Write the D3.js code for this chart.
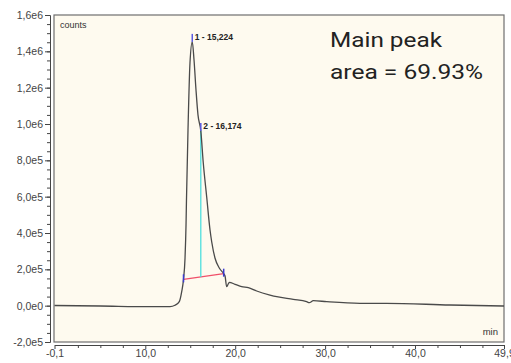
<!DOCTYPE html>
<html>
<head>
<meta charset="utf-8">
<script src="https://cdn.jsdelivr.net/npm/d3@7"></script>
<style>
  body { margin: 0; background: #fff; }
  svg { display: block; }
</style>
</head>
<body>
<svg id="chart" width="511" height="363"></svg>
<script>
// chromatogram trace (time in min, signal in counts)
const times = [-0.1, 5.0, 10.5, 12.75, 13.3, 13.78, 14.05, 14.25, 14.42, 14.53, 14.58, 14.75, 14.97, 15.224,
  15.42, 15.64, 15.86, 16.174, 16.45, 16.83, 17.2, 17.39, 17.75, 18.23, 18.72, 18.87, 19.05, 19.34,
  19.98, 20.72, 21.46, 22.39, 23.87, 24.62, 26.46, 27.95, 28.24, 28.69, 30.18, 33.88, 36.85, 43.89, 49.9];
const counts = [1000, -1800, -5500, -5500, 2000, 21800, 76900, 145000, 262400, 444000, 581700, 967000, 1336000, 1452000,
  1352000, 1187000, 1050000, 962000, 785000, 598000, 416600, 350500, 262400, 207400, 176000, 163300, 104400, 128600,
  117600, 104400, 98900, 80800, 58700, 49400, 35100, 21800, 16300, 27400, 21800, 13000, 13000, 3700, -1800];

// detected peaks
const peakTimes = [15.224, 16.174];
const peakValues = [1452000, 962000];
const peakNames = ["1 - 15,224", "2 - 16,174"];

// integration baseline (start, end)
const baseTimes = [14.25, 18.72];
const baseValues = [145000, 176000];

// axes
const xTickValues = [-0.1, 10, 20, 30, 40, 49.9];
const xTickLabels = ["-0,1", "10,0", "20,0", "30,0", "40,0", "49,9"];
const xMinorTicks = [2.5, 5, 7.5, 12.5, 15, 17.5, 22.5, 25, 27.5, 32.5, 35, 37.5, 42.5, 45, 47.5];
const yTickValues = [-200000, 0, 200000, 400000, 600000, 800000, 1000000, 1200000, 1400000, 1600000];
const yTickLabels = ["-2,0e5", "0,0e0", "2,0e5", "4,0e5", "6,0e5", "8,0e5", "1,0e6", "1,2e6", "1,4e6", "1,6e6"];

const noteLines = ["Main peak", "area = 69.93%"];

const svg = d3.select("#chart");
const box = { left: 54, right: 504, top: 15, bottom: 342 };

const x = d3.scaleLinear().domain([-0.1, 49.9]).range([box.left + 0.5, box.right]);
const y = d3.scaleLinear().domain([-200000, 1600000]).range([box.bottom, box.top]);

// plot background
svg.append("rect")
  .attr("x", box.left).attr("y", box.top)
  .attr("width", box.right - box.left).attr("height", box.bottom - box.top)
  .attr("fill", "#fefaef")
  .attr("stroke", "#6e6e6e")
  .attr("stroke-width", 1.2);

// y axis (major + minor)
const yMinor = d3.range(-200000, 1600001, 50000);
svg.append("g")
  .attr("transform", "translate(50,0)")
  .call(d3.axisLeft(y).tickValues(yMinor).tickSize(3).tickFormat(""))
  .call(g => g.select(".domain").attr("stroke", "#444"))
  .call(g => g.selectAll(".tick line").attr("stroke", "#444"));
svg.append("g")
  .attr("transform", "translate(50,0)")
  .call(d3.axisLeft(y).tickValues(yTickValues).tickSize(5).tickPadding(2)
    .tickFormat((d, i) => yTickLabels[i]))
  .call(g => g.select(".domain").remove())
  .call(g => g.selectAll(".tick line").attr("stroke", "#444"))
  .call(g => g.selectAll("text").attr("fill", "#444")
    .style("font", "10.5px 'Liberation Sans', Arial, sans-serif"));

// x axis (major + minor)
svg.append("g")
  .attr("transform", "translate(0,345)")
  .call(d3.axisBottom(x).tickValues(xMinorTicks).tickSize(3).tickFormat("").tickSizeOuter(0))
  .call(g => g.select(".domain").attr("stroke", "#444"))
  .call(g => g.selectAll(".tick line").attr("stroke", "#444"));
svg.append("g")
  .attr("transform", "translate(0,345)")
  .call(d3.axisBottom(x).tickValues(xTickValues).tickSize(4).tickPadding(1)
    .tickFormat((d, i) => xTickLabels[i]))
  .call(g => g.select(".domain").remove())
  .call(g => g.selectAll(".tick line").attr("stroke", "#444"))
  .call(g => g.selectAll("text").attr("fill", "#444")
    .style("font", "10.5px 'Liberation Sans', Arial, sans-serif"));

// unit labels
svg.append("text")
  .attr("x", 60).attr("y", 28)
  .attr("fill", "#333")
  .style("font", "9px 'Liberation Sans', Arial, sans-serif")
  .text("counts");
svg.append("text")
  .attr("x", 498).attr("y", 335)
  .attr("text-anchor", "end")
  .attr("fill", "#333")
  .style("font", "9.5px 'Liberation Sans', Arial, sans-serif")
  .text("min");

// integration baseline
svg.append("line")
  .attr("x1", x(baseTimes[0])).attr("y1", y(baseValues[0]))
  .attr("x2", x(baseTimes[1])).attr("y2", y(baseValues[1]))
  .attr("stroke", "#f0506a").attr("stroke-width", 1.3);

// drop line at peak 2
const baseAt = t => baseValues[0] + (t - baseTimes[0]) / (baseTimes[1] - baseTimes[0]) * (baseValues[1] - baseValues[0]);
svg.append("line")
  .attr("x1", x(peakTimes[1])).attr("y1", y(peakValues[1]))
  .attr("x2", x(peakTimes[1])).attr("y2", y(baseAt(peakTimes[1])))
  .attr("stroke", "#3fdcdc").attr("stroke-width", 1.2);

// trace
const pts = times.map((t, i) => [t, counts[i]]);
svg.append("path")
  .datum(pts)
  .attr("fill", "none")
  .attr("stroke", "#4a4a4a")
  .attr("stroke-width", 1.3)
  .attr("d", d3.line().x(d => x(d[0])).y(d => y(d[1])).curve(d3.curveMonotoneX));

// baseline end markers
baseTimes.forEach((t, i) => {
  svg.append("line")
    .attr("x1", x(t)).attr("x2", x(t))
    .attr("y1", y(baseValues[i]) - 5).attr("y2", y(baseValues[i]) + 3)
    .attr("stroke", "#3a3ad0").attr("stroke-width", 1.5);
});

// peak markers and labels
peakTimes.forEach((t, i) => {
  svg.append("line")
    .attr("x1", x(t)).attr("x2", x(t))
    .attr("y1", y(peakValues[i]) - 8).attr("y2", y(peakValues[i]))
    .attr("stroke", "#5a5ae0").attr("stroke-width", 1.5);
  svg.append("text")
    .attr("x", x(t) + 2.5).attr("y", y(peakValues[i]) - 2)
    .attr("fill", "#222")
    .style("font", "bold 8.5px 'Liberation Sans', Arial, sans-serif")
    .text(peakNames[i]);
});

// note
noteLines.forEach((s, i) => {
  svg.append("text")
    .attr("x", 330).attr("y", 47 + i * 31.5)
    .attr("fill", "#222")
    .attr("textLength", i === 0 ? 112 : 153)
    .attr("lengthAdjust", "spacingAndGlyphs")
    .style("font", "20px Roboto, 'Noto Sans', sans-serif")
    .text(s);
});
</script>
</body>
</html>
